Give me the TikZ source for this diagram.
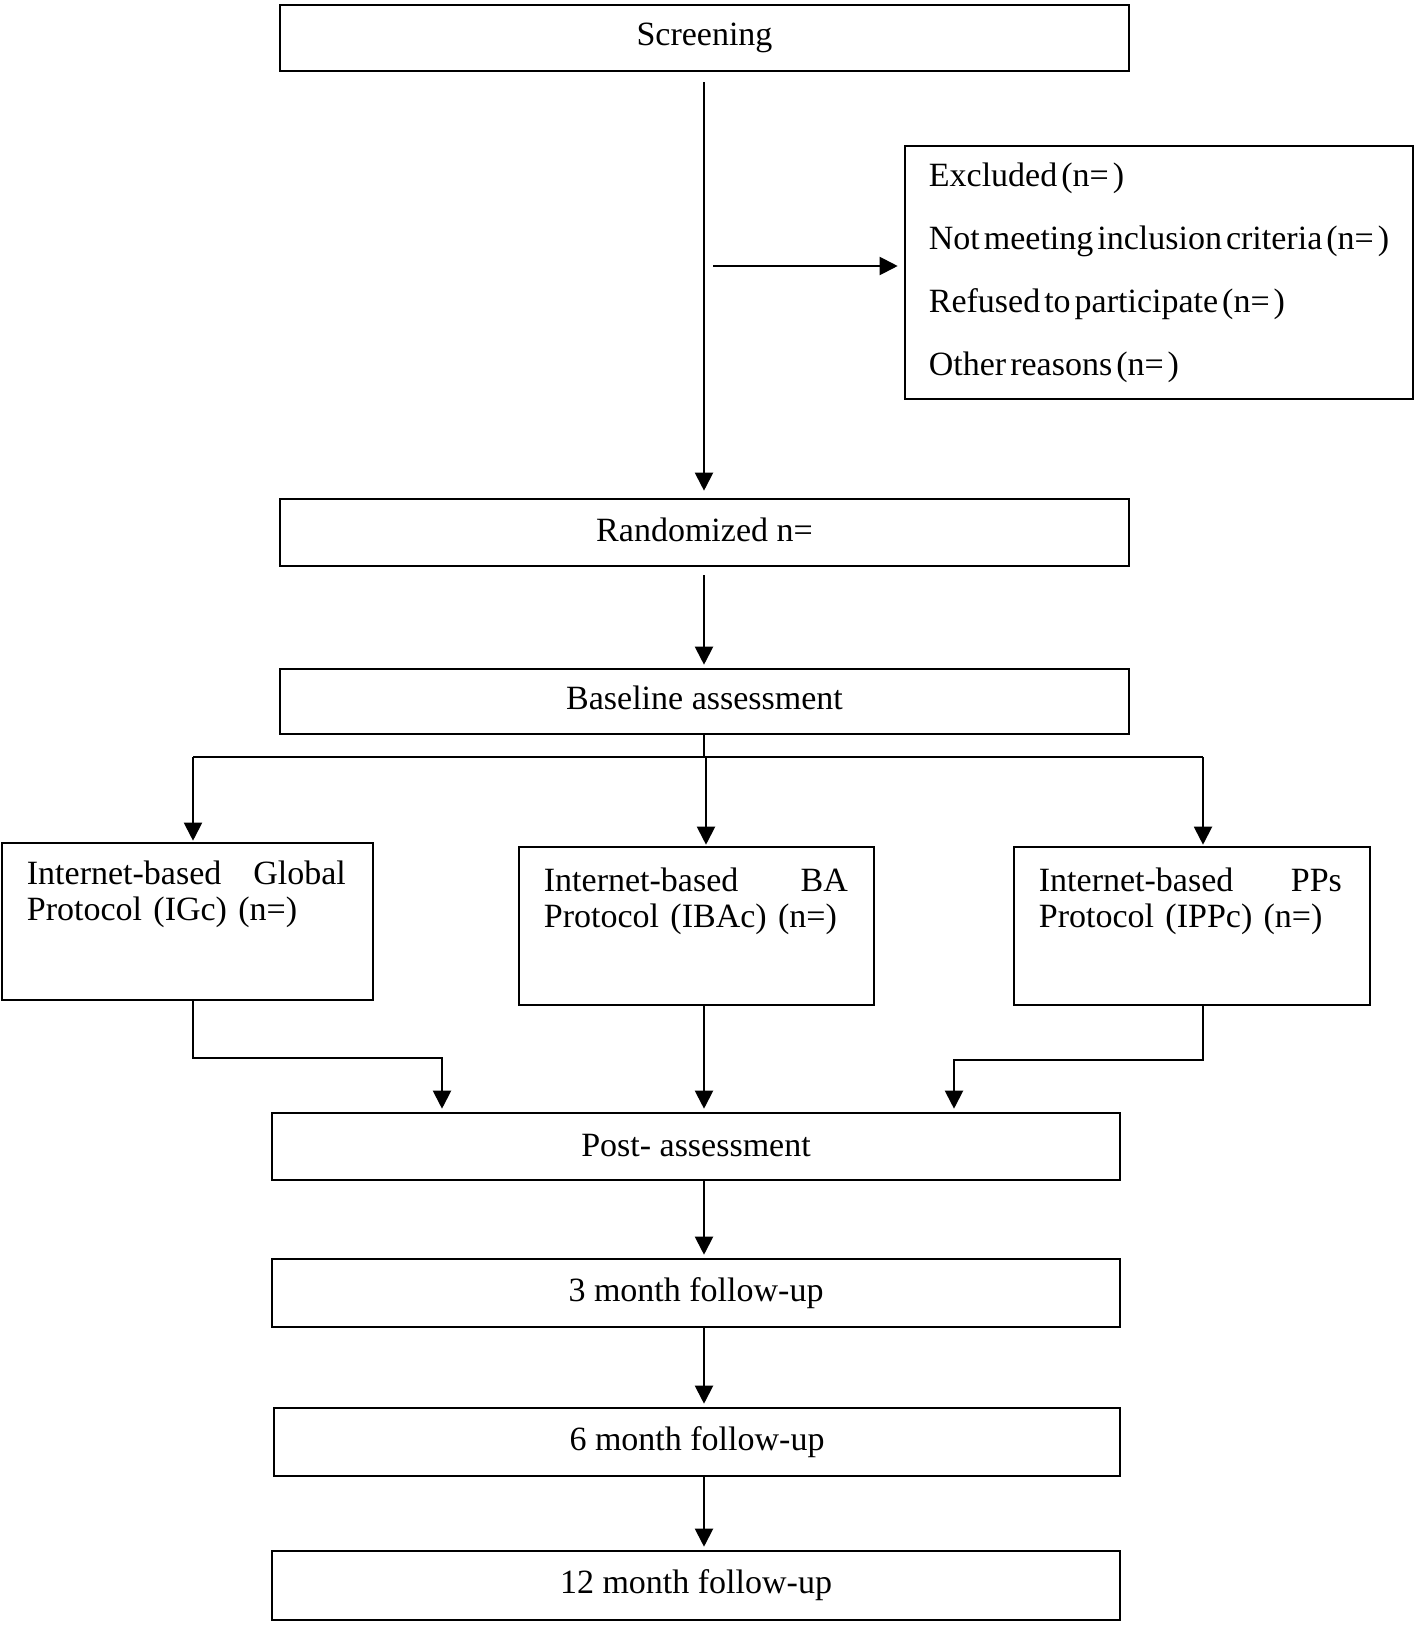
\documentclass[tikz,border=0pt]{standalone}
\usepackage{fontspec}
\setmainfont{Liberation Serif}
\usetikzlibrary{arrows.meta,calc}
\newcommand{\tightspaces}{\spaceskip=4pt\relax}
\begin{document}
\begin{tikzpicture}[x=1pt,y=-1pt,
  box/.style={draw, line width=2.6pt, inner sep=0pt},
  conn/.style={line width=2pt},
  arr/.style={conn, -{Triangle[length=18pt,width=18pt]}, shorten >=3pt},
  every node/.style={font=\fontsize{34}{36}\selectfont}]
\useasboundingbox (0,0) rectangle (1418,1627);
\fill[white] (0,0) rectangle (1418,1627);

% boxes
\node[box, minimum width=849pt, minimum height=66pt] (screen) at (704.5,38) {\raisebox{-2pt}{Screening}};
\node[box, minimum width=508pt, minimum height=253pt, align=left,
      font=\fontsize{34}{63}\selectfont\tightspaces] (excl) at (1159,272.5)
  {Excluded (n= )\\Not meeting inclusion criteria (n= )\\Refused to participate (n= )\\Other reasons (n= )};
\node[box, minimum width=849pt, minimum height=67pt] (rand) at (704.5,532.5) {\raisebox{5pt}{Randomized n=}};
\node[box, minimum width=849pt, minimum height=65pt] (base) at (704.5,701.5) {\raisebox{7pt}{Baseline assessment}};

\node[box, minimum width=371pt, minimum height=157pt] (igc) at (187.5,921.5) {};
\node[box, minimum width=355pt, minimum height=158pt] (ibac) at (696.5,926) {};
\node[box, minimum width=356pt, minimum height=158pt] (ippc) at (1192,926) {};
\node[anchor=north west, inner sep=0pt, text width=319pt, align=left] (igct)
  at ($(igc.north west)+(26,19)$) {Internet-based\hfill Global\\Protocol (IGc) (n=)};
\node[anchor=north west, inner sep=0pt, text width=304pt, align=left] (ibact)
  at ($(ibac.north west)+(26,22)$) {Internet-based\hfill BA\\Protocol (IBAc) (n=)};
\node[anchor=north west, inner sep=0pt, text width=303pt, align=left] (ippct)
  at ($(ippc.north west)+(26,22)$) {Internet-based\hfill PPs\\Protocol (IPPc) (n=)};

\node[box, minimum width=848pt, minimum height=67pt] (post) at (696,1146.5) {\raisebox{3pt}{Post- assessment}};
\node[box, minimum width=848pt, minimum height=68pt] (m3) at (696,1293) {3 month follow-up};
\node[box, minimum width=846pt, minimum height=68pt] (m6) at (697,1442) {6 month follow-up};
\node[box, minimum width=848pt, minimum height=69pt] (m12) at (696,1585.5) {12 month follow-up};

% connectors
\coordinate (axis) at (704,0);
\draw[arr, shorten >=7pt] ([yshift=-10pt]screen.south -| axis) -- (axis |- rand.north);
\coordinate (exA) at (713,266);
\draw[arr, shorten >=6pt] (exA) -- (exA -| excl.west);
\draw[arr] ([yshift=-8pt]rand.south -| axis) -- (axis |- base.north);

\coordinate (bl) at (193,757);
\coordinate (bm) at (706,757);
\coordinate (brr) at (1203,757);
\draw[conn] (axis |- base.south) -- (axis |- bl);
\draw[conn] (bl) -- (brr);
\draw[arr, shorten >=1pt] (bl) -- (bl |- igc.north);
\draw[arr, shorten >=1pt] (bm) -- (bm |- ibac.north);
\draw[arr, shorten >=1pt] (brr) -- (brr |- ippc.north);

\coordinate (jl) at (442,1058);
\coordinate (jr) at (954,1060);
\draw[arr] (bl |- igc.south) |- (jl) -- (jl |- post.north);
\draw[arr] (axis |- ibac.south) -- (axis |- post.north);
\draw[arr] (brr |- ippc.south) |- (jr) -- (jr |- post.north);

\draw[arr] (axis |- post.south) -- (axis |- m3.north);
\draw[arr] (axis |- m3.south) -- (axis |- m6.north);
\draw[arr] (axis |- m6.south) -- (axis |- m12.north);
\end{tikzpicture}
\end{document}
